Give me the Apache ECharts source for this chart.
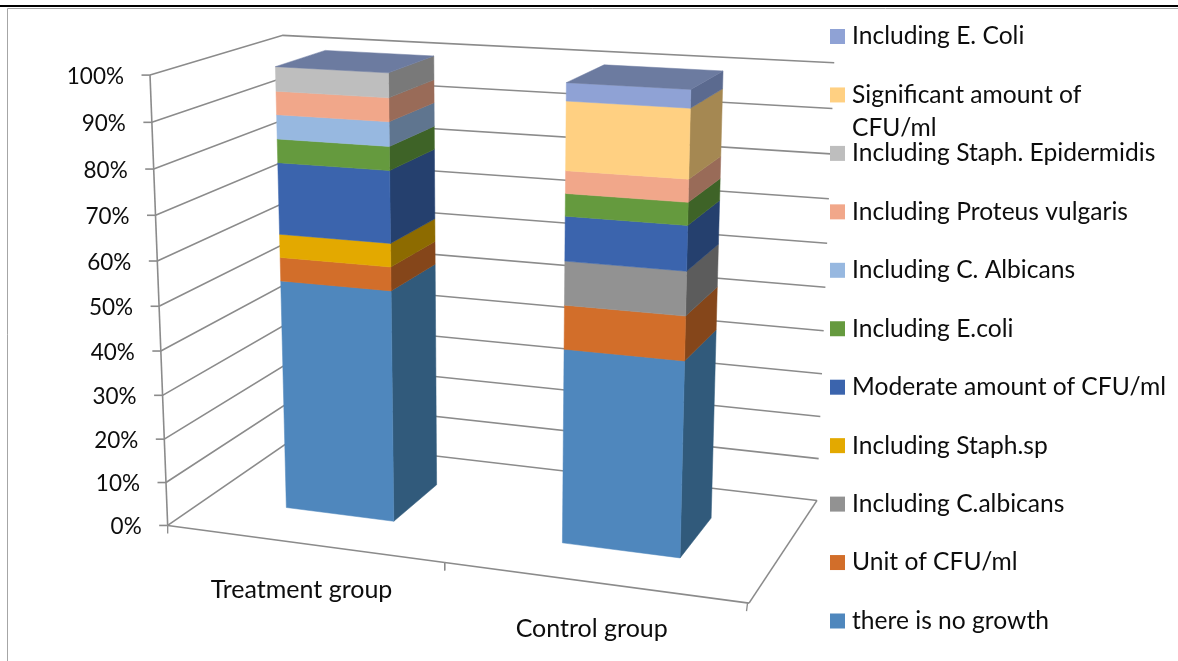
<!DOCTYPE html>
<html>
<head>
<meta charset="utf-8">
<style>html,body{margin:0;padding:0;background:#fff}#chart{width:1178px;height:661px}</style>
<script src="https://cdn.jsdelivr.net/npm/echarts@6/dist/echarts.min.js"></script>
</head>
<body>
<div id="chart"></div>
<script>
// Stacked percentage columns shown as 3D boxes in a perspective chart box.
const categories = ['Treatment group', 'Control group'];
const tickValues = [0, 10, 20, 30, 40, 50, 60, 70, 80, 90, 100];
const tickLabels = ['0%', '10%', '20%', '30%', '40%', '50%', '60%', '70%', '80%', '90%', '100%'];

const seriesNames = [
  'there is no growth', 'Unit of CFU/ml', 'Including C.albicans', 'Including Staph.sp',
  'Moderate amount of CFU/ml', 'Including E.coli', 'Including C. Albicans',
  'Including Proteus vulgaris', 'Including Staph. Epidermidis',
  'Significant amount of CFU/ml', 'Including E. Coli'
];
const treatmentValues = [52.7, 5.3, 0, 5.2, 15.9, 5.2, 5.3, 5.1, 5.3, 0, 0];
const controlValues = [43.4, 9.6, 9.5, 0, 9.6, 4.8, 0, 4.8, 0, 14.5, 3.8];

const frontColors = ['#4F87BD', '#D26E2A', '#929292', '#E3A900', '#3B64AD', '#659A3E', '#97B8E0', '#F1A78A', '#BEBEBE', '#FFD082', '#8FA2D5'];
const sideColors = ['#315A7B', '#85461A', '#5C5C5C', '#8D6B00', '#25406E', '#3E6327', '#5F758F', '#996B58', '#797979', '#A58852', '#5B6A8F'];
const topColor = '#6C7BA0';
const gridColor = '#8B8B8B';
const textColor = '#0D0D0D';
const fontFamily = 'Lato';
const tickFontSize = 22.5;
const nameFontSize = 25;
const legendFontSize = 24.6;

// Camera for the chart box: (u, v, w) = along categories, along values, into depth, each 0..1.
const camera = [514.130036, -25.451656, 159.945003, 167.692347, 23.591524, -454.244343, -33.458853, 525.453355, -0.089696, -0.051774, 0.119991];
const project = (u, v, w) => {
  const c = camera;
  const d = c[8] * u + c[9] * v + c[10] * w + 1;
  return [(c[0] * u + c[1] * v + c[2] * w + c[3]) / d, (c[4] * u + c[5] * v + c[6] * w + c[7]) / d];
};

// The flat cartesian grid stays hidden: it supplies the scales, the camera supplies the view.
const gridBox = { left: 100, top: 50, width: 1000, height: 500 };
const toU = px => (px - gridBox.left) / gridBox.width;
const toV = py => (gridBox.top + gridBox.height - py) / gridBox.height;

const barShare = 0.4;
const depthStart = 0.3;
const depthEnd = 0.7;

// 100% stacking: every category's values are turned into share boundaries.
const stackRows = [treatmentValues, controlValues].map((row, cat) => {
  const total = row.reduce((a, b) => a + b, 0);
  let running = 0;
  return row.map(val => {
    const from = running / total * 100;
    running += val;
    return [cat, from, running / total * 100];
  });
});

const polygon = (points, color) => ({
  type: 'polygon',
  shape: { points },
  style: { fill: color, stroke: color, lineWidth: 0.5 }
});

function renderBox(seriesIndex, params, api) {
  const low = api.coord([api.value(0), api.value(1)]);
  const high = api.coord([api.value(0), api.value(2)]);
  const half = api.size([1, 0])[0] * barShare / 2;
  const u0 = toU(low[0] - half);
  const u1 = toU(low[0] + half);
  const v0 = toV(low[1]);
  const v1 = toV(high[1]);
  const children = [];
  if (v1 > v0) {
    children.push(polygon([project(u1, v0, depthStart), project(u1, v1, depthStart), project(u1, v1, depthEnd), project(u1, v0, depthEnd)], sideColors[seriesIndex]));
    children.push(polygon([project(u0, v0, depthStart), project(u1, v0, depthStart), project(u1, v1, depthStart), project(u0, v1, depthStart)], frontColors[seriesIndex]));
  }
  // The cap belongs to the last series, so both columns get the same lid.
  if (seriesIndex === seriesNames.length - 1) {
    children.push(polygon([project(u0, v1, depthStart), project(u1, v1, depthStart), project(u1, v1, depthEnd), project(u0, v1, depthEnd)], topColor));
  }
  return { type: 'group', children };
}

const line = (points, width) => ({
  type: 'polyline',
  shape: { points },
  style: { fill: null, stroke: gridColor, lineWidth: width || 1.6 }
});
const label = (text, x, y, align, fontSize) => ({
  type: 'text',
  style: { text, x, y, align, verticalAlign: 'middle', fontFamily, fontSize, fill: textColor }
});

// Wall grid lines with their ticks and percentage labels.
function renderValueGrid(params, api) {
  const pos = api.coord([0, api.value(0)]);
  const v = toV(pos[1]);
  const front = project(0, v, 0);
  return {
    type: 'group',
    children: [
      line([front, project(0, v, 1), project(1, v, 1)]),
      line([[front[0] - 8.5, front[1]], front]),
      label(tickLabels[params.dataIndex], front[0] - 26, front[1] + 1.5, 'right', tickFontSize)
    ]
  };
}

// Floor outline, the left upright and the category ticks and names.
function renderCategoryAxis(params, api) {
  const half = api.size([1, 0])[0] / 2;
  const pos = api.coord([api.value(0), 0]);
  const u = toU(pos[0]);
  const start = project(toU(pos[0] - half), 0, 0);
  const end = project(toU(pos[0] + half), 0, 0);
  const name = project(u, 0, 0);
  const children = [
    line([start, end]),
    line([[start[0], start[1]], [start[0], start[1] + 8]], 1.3),
    line([[end[0] - (params.dataIndex ? 1.5 : 0), end[1]], [end[0] - (params.dataIndex ? 2.5 : 0), end[1] + 8]], 1.3),
    label(categories[params.dataIndex], name[0] - 1.5, name[1] + 46.5, 'center', nameFontSize)
  ];
  if (params.dataIndex === 0) {
    children.push(line([project(0, 0, 0), project(0, 1, 0)]));
  } else {
    children.push(line([project(1, 0, 0), project(1, 0, 1)]));
  }
  return { type: 'group', children };
}

const wrappedLegendName = 'Significant amount of CFU/ml';
const wrappedLegendTail = 'CFU/ml';

const option = {
  animation: false,
  backgroundColor: '#fff',
  textStyle: { fontFamily },
  grid: gridBox,
  xAxis: { type: 'category', data: categories, show: false },
  yAxis: { type: 'value', min: 0, max: 100, interval: 10, show: false },
  legend: {
    data: seriesNames.slice().reverse(),
    orient: 'vertical',
    left: 830,
    top: 24,
    padding: 0,
    itemWidth: 15,
    itemHeight: 15,
    itemGap: 33.45,
    icon: 'rect',
    selectedMode: false,
    formatter: n => (n === wrappedLegendName ? n.replace(' ' + wrappedLegendTail, '') : n),
    textStyle: { fontFamily, fontSize: legendFontSize, color: textColor, padding: [0, 0, 0, 2] }
  },
  graphic: [
    { type: 'rect', silent: true, shape: { x: 0, y: 5, width: 1178, height: 2 }, style: { fill: '#000' } },
    { type: 'polyline', silent: true, shape: { points: [[7.5, 661], [7.5, 8.5], [1178, 8.5]] }, style: { fill: null, stroke: '#A6A6A6', lineWidth: 1 } },
    { type: 'text', silent: true, style: { text: wrappedLegendTail, x: 852, y: 128.5, verticalAlign: 'middle', fontFamily, fontSize: legendFontSize, fill: textColor } }
  ],
  series: [
    { type: 'custom', silent: true, z: 1, data: tickValues.map(t => [t]), encode: { y: 0 }, renderItem: renderValueGrid },
    { type: 'custom', silent: true, z: 1, data: categories.map((c, i) => [i]), encode: { x: 0 }, renderItem: renderCategoryAxis }
  ].concat(seriesNames.map((name, s) => ({
    type: 'custom',
    name,
    z: 2,
    silent: true,
    itemStyle: { color: frontColors[s] },
    data: stackRows.map(row => row[s]),
    encode: { x: 0, y: [1, 2] },
    renderItem: (params, api) => renderBox(s, params, api)
  })))
};

echarts.init(document.getElementById('chart'), null, { renderer: 'canvas' }).setOption(option);
</script>
</body>
</html>
